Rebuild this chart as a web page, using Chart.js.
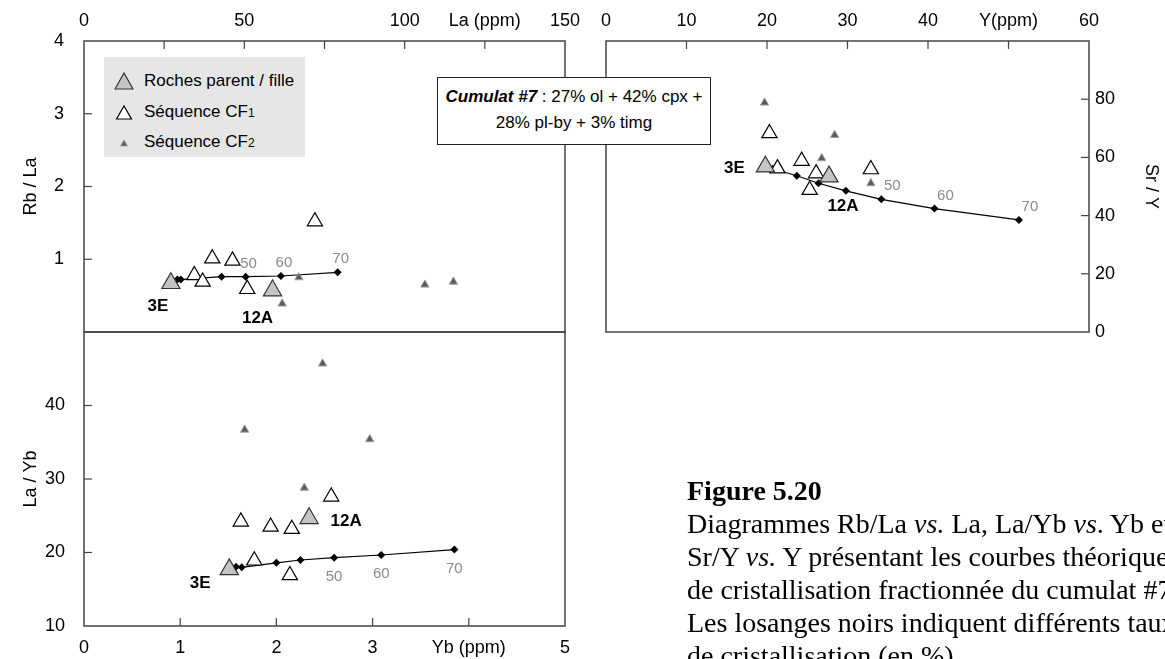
<!DOCTYPE html>
<html lang="fr">
<head>
<meta charset="utf-8">
<title>Figure 5.20</title>
<script src="https://cdn.jsdelivr.net/npm/chart.js@4.4.0/dist/chart.umd.min.js"></script>
<style>
    html, body { margin: 0; padding: 0; background: #fff; }
    body { width: 1165px; height: 659px; overflow: hidden; position: relative; font-family: 'Liberation Sans', Arial, sans-serif; }
    canvas { position: absolute; left: 0; top: 0; }
    #legend { position: absolute; left: 104px; top: 57px; width: 201px; height: 100px; background: #e6e6e6; z-index: 5; }
    #legend .row { position: absolute; left: 0; height: 20px; line-height: 20px; font-size: 17px; white-space: nowrap; }
    #legend svg { position: absolute; left: 10px; top: 1px; }
    #legend span.lbl { position: absolute; left: 40px; top: 0; }
    #legend sub { font-size: 12px; vertical-align: baseline; }
    #cumulat { position: absolute; left: 437px; top: 77px; width: 272px; height: 60px; border: 1.5px solid #222; background: #fff;
               text-align: center; font-size: 17px; line-height: 26px; padding-top: 6px; box-sizing: content-box; z-index: 5; white-space: nowrap; }
    #caption { position: absolute; left: 687px; top: 474px; font-family: 'Liberation Serif', 'Times New Roman', serif; font-size: 28px;
               line-height: 33px; white-space: nowrap; color: #000; }
</style>
</head>
<body>

<canvas id="rbLaChart" width="1165" height="659"></canvas>
<canvas id="laYbChart" width="1165" height="659"></canvas>
<canvas id="srYChart" width="1165" height="659"></canvas>

<div id="legend">
    <div class="row" style="top:14px">
        <svg width="20" height="18"><polygon points="1,17 10,1 19,17" fill="#c4c4c4" stroke="#333" stroke-width="1.2"/></svg>
        <span class="lbl">Roches parent / fille</span>
    </div>
    <div class="row" style="top:45px">
        <svg width="20" height="18"><polygon points="2.5,16 10,3 17.5,16" fill="#fff" stroke="#000" stroke-width="1.2"/></svg>
        <span class="lbl">Séquence CF<sub>1</sub></span>
    </div>
    <div class="row" style="top:75px">
        <svg width="20" height="18"><polygon points="6.5,13 10,7 13.5,13" fill="#5a5a5a" stroke="#a0a0a0" stroke-width="1"/></svg>
        <span class="lbl">Séquence CF<sub>2</sub></span>
    </div>
</div>

<div id="cumulat">
    <b><i>Cumulat #7</i></b> : 27% ol + 42% cpx +<br>28% pl-by + 3% timg
</div>

<div id="caption">
    <b>Figure 5.20</b><br>
    Diagrammes Rb/La <i>vs.</i> La, La/Yb <i>vs</i>. Yb et<br>
    Sr/Y <i>vs.</i> Y présentant les courbes théoriques<br>
    de cristallisation fractionnée du cumulat #7.<br>
    Les losanges noirs indiquent différents taux<br>
    de cristallisation (en %).
</div>

<script>
// =======================================================
// Data
// =======================================================

// --- Rb/La vs La (ppm) ---
const laParent   = [27.1, 58.8];
const rbLaParent = [0.67, 0.57];
const laCF1      = [34.4, 37.0, 40.0, 46.3, 50.9, 72.0];
const rbLaCF1    = [0.78, 0.69, 1.01, 0.98, 0.59, 1.52];
const laCF2      = [61.8, 67.0, 106.3, 115.2];
const rbLaCF2    = [0.39, 0.75, 0.65, 0.69];
const laCurve    = [29.1, 30.2, 42.9, 50.4, 61.4, 79.1];
const rbLaCurve  = [0.72, 0.72, 0.76, 0.76, 0.77, 0.82];
const rbLaPct    = ['', '', '', '50', '60', '70'];

// --- La/Yb vs Yb (ppm) ---
const ybParent   = [1.51, 2.34];
const laYbParent = [17.7, 24.65];
const ybCF1      = [1.63, 1.94, 2.16, 2.57, 1.77, 2.14];
const laYbCF1    = [24.2, 23.5, 23.2, 27.6, 18.9, 16.9];
const ybCF2      = [2.48, 1.67, 2.97, 2.29];
const laYbCF2    = [45.7, 36.7, 35.4, 28.8];
const ybCurve    = [1.58, 1.64, 2.00, 2.25, 2.60, 3.09, 3.85];
const laYbCurve  = [18.07, 17.99, 18.6, 18.98, 19.3, 19.66, 20.4];
const laYbPct    = ['', '', '', '', '50', '60', '70'];

// --- Sr/Y vs Y (ppm) ---
const yParent    = [19.8, 27.7];
const srYParent  = [56.8, 53.4];
const yCF1       = [20.3, 21.3, 24.3, 26.1, 25.3, 32.9];
const srYCF1     = [68.3, 56.2, 58.8, 54.5, 48.8, 55.9];
const yCF2       = [19.7, 26.8, 28.4, 32.9];
const srYCF2     = [78.8, 59.7, 67.7, 51.1];
const yCurve     = [20.7, 23.7, 26.4, 29.8, 34.2, 40.8, 51.3];
const srYCurve   = [56.1, 53.7, 51.1, 48.5, 45.6, 42.4, 38.5];
const srYPct     = ['', '', '', '', '50', '60', '70'];

const sampleNames = ['3E', '12A'];

// --- Axis tick labels (axis names sit in place of one tick) ---
const laTickLabels  = { 0: '0', 50: '50', 100: '100', 125: 'La (ppm)', 150: '150' };
const ybTickLabels  = { 0: '0', 1: '1', 2: '2', 3: '3', 4: 'Yb (ppm)', 5: '5' };
const yTickLabels   = { 0: '0', 10: '10', 20: '20', 30: '30', 40: '40', 50: 'Y(ppm)', 60: '60' };

// =======================================================
// Helpers
// =======================================================
const FONT = "'Liberation Sans', Arial, sans-serif";
const pts = (xs, ys) => xs.map((x, i) => ({ x, y: ys[i] }));

// fixed axis thickness so the plot areas land where the figure has them
const fixBox = size => scale => {
    if (scale.isHorizontal()) scale.height = size; else scale.width = size;
    scale.paddingLeft = scale.paddingRight = scale.paddingTop = scale.paddingBottom = 0;
};

// frame round the plot area + ticks pointing inwards
const framePlugin = {
    id: 'frame',
    afterDraw(chart, args, opts) {
        const { ctx, chartArea: a } = chart;
        ctx.save();
        ctx.strokeStyle = '#444';
        ctx.lineWidth = 1.5;
        ctx.strokeRect(a.left, a.top, a.right - a.left, a.bottom - a.top);
        ctx.lineWidth = 1.2;
        (opts.sides || []).forEach(sd => {
            const s = chart.scales[sd.scale];
            s.ticks.forEach(tk => {
                if (tk.value <= s.min || tk.value >= s.max) return;
                const p = s.getPixelForValue(tk.value);
                ctx.beginPath();
                if (sd.side === 'top')    { ctx.moveTo(p, a.top);    ctx.lineTo(p, a.top + 8); }
                if (sd.side === 'bottom') { ctx.moveTo(p, a.bottom); ctx.lineTo(p, a.bottom - 8); }
                if (sd.side === 'left')   { ctx.moveTo(a.left, p);   ctx.lineTo(a.left + 8, p); }
                if (sd.side === 'right')  { ctx.moveTo(a.right, p);  ctx.lineTo(a.right - 8, p); }
                ctx.stroke();
            });
        });
        ctx.restore();
    }
};

// sample names and crystallisation % next to the points
const pointLabelPlugin = {
    id: 'pointLabels',
    afterDatasetsDraw(chart, args, opts) {
        const ctx = chart.ctx;
        ctx.save();
        ctx.textAlign = 'center';
        ctx.textBaseline = 'middle';
        (opts.sets || []).forEach(set => {
            const meta = chart.getDatasetMeta(set.dataset);
            ctx.font = set.font;
            ctx.fillStyle = set.color;
            meta.data.forEach((el, i) => {
                const txt = set.texts[i];
                if (!txt) return;
                const off = set.offsets ? set.offsets[i] : set.offset;
                ctx.fillText(txt, el.x + off[0], el.y + off[1]);
            });
        });
        ctx.restore();
    }
};

const makeSets = (px, py, c1x, c1y, c2x, c2y, cx, cy) => [
    { data: pts(px, py), pointStyle: 'triangle', pointRadius: 10.5, pointBackgroundColor: '#c4c4c4', pointBorderColor: '#333', pointBorderWidth: 1.2 },
    { data: pts(c1x, c1y), pointStyle: 'triangle', pointRadius: 8.8, pointBackgroundColor: '#fff', pointBorderColor: '#000', pointBorderWidth: 1.2 },
    { data: pts(c2x, c2y), pointStyle: 'triangle', pointRadius: 4.8, pointBackgroundColor: '#5a5a5a', pointBorderColor: '#a0a0a0', pointBorderWidth: 1 },
    { data: pts(cx, cy), showLine: true, borderColor: '#000', borderWidth: 1.2, pointStyle: 'rectRot', pointRadius: 4,
      pointBackgroundColor: '#000', pointBorderColor: '#000', pointBorderWidth: 0 }
];

const tickFont = { family: FONT, size: 18 };
const nameFont = 'bold 17px ' + FONT;
const pctFont = '15px ' + FONT;

function makePanel(id, datasets, padding, scales, frameSides, labelSets) {
    return new Chart(document.getElementById(id), {
        type: 'scatter',
        data: { datasets },
        options: {
            responsive: false,
            animation: false,
            events: [],
            layout: { padding },
            plugins: {
                legend: { display: false },
                tooltip: { enabled: false },
                frame: { sides: frameSides },
                pointLabels: { sets: labelSets }
            },
            scales
        },
        plugins: [framePlugin, pointLabelPlugin]
    });
}

const axisBase = (extra) => Object.assign({
    type: 'linear',
    grid: { display: false, drawTicks: false },
    border: { display: false }
}, extra);

// =======================================================
// Panel 1: Rb/La vs La
// =======================================================
makePanel('rbLaChart',
    makeSets(laParent, rbLaParent, laCF1, rbLaCF1, laCF2, rbLaCF2, laCurve, rbLaCurve),
    { left: 20, top: 0, right: 600, bottom: 327 },
    {
        x: axisBase({ position: 'top', min: 0, max: 150, afterFit: fixBox(41),
            ticks: { stepSize: 25, autoSkip: false, maxRotation: 0, padding: 9, color: '#000', font: tickFont,
                     callback: v => laTickLabels[v] ?? '' } }),
        y: axisBase({ position: 'left', min: 0, max: 4, afterFit: fixBox(64),
            ticks: { stepSize: 1, padding: 20, color: '#000', font: tickFont, callback: v => v === 0 ? '' : v },
            title: { display: true, text: 'Rb / La', padding: 0, color: '#000', font: tickFont } })
    },
    [{ scale: 'x', side: 'top' }, { scale: 'y', side: 'left' }],
    [
        { dataset: 0, texts: sampleNames, font: nameFont, color: '#000', offsets: [[-13, 23], [-15, 28]] },
        { dataset: 3, texts: rbLaPct, font: pctFont, color: '#8a8a8a', offset: [3, -13] }
    ]
);

// =======================================================
// Panel 2: La/Yb vs Yb
// =======================================================
makePanel('laYbChart',
    makeSets(ybParent, laYbParent, ybCF1, laYbCF1, ybCF2, laYbCF2, ybCurve, laYbCurve),
    { left: 20, top: 332, right: 600, bottom: 0 },
    {
        x: axisBase({ position: 'bottom', min: 0, max: 5, afterFit: fixBox(33),
            ticks: { stepSize: 1, autoSkip: false, maxRotation: 0, padding: 11, color: '#000', font: tickFont,
                     callback: v => ybTickLabels[v] ?? '' } }),
        y: axisBase({ position: 'left', min: 10, max: 50, afterFit: fixBox(64),
            ticks: { stepSize: 10, padding: 19, color: '#000', font: tickFont, callback: v => v === 50 ? '' : v },
            title: { display: true, text: 'La / Yb', padding: 0, color: '#000', font: tickFont } })
    },
    [{ scale: 'x', side: 'bottom' }, { scale: 'y', side: 'left' }],
    [
        { dataset: 0, texts: sampleNames, font: nameFont, color: '#000', offsets: [[-29, 14], [37, 3]] },
        { dataset: 3, texts: laYbPct, font: pctFont, color: '#8a8a8a', offset: [0, 19] }
    ]
);

// =======================================================
// Panel 3: Sr/Y vs Y
// =======================================================
makePanel('srYChart',
    makeSets(yParent, srYParent, yCF1, srYCF1, yCF2, srYCF2, yCurve, srYCurve),
    { left: 606, top: 0, right: 3, bottom: 327 },
    {
        x: axisBase({ position: 'top', min: 0, max: 60, afterFit: fixBox(41),
            ticks: { stepSize: 10, autoSkip: false, maxRotation: 0, padding: 9, color: '#000', font: tickFont,
                     callback: v => yTickLabels[v] ?? '' } }),
        y: axisBase({ position: 'right', min: 0, max: 100, afterFit: fixBox(73),
            ticks: { stepSize: 20, padding: 6, color: '#000', font: tickFont, callback: v => v === 100 ? '' : v },
            title: { display: true, text: 'Sr / Y', padding: 0, color: '#000', font: tickFont } })
    },
    [{ scale: 'x', side: 'top' }, { scale: 'y', side: 'right' }],
    [
        { dataset: 0, texts: sampleNames, font: nameFont, color: '#000', offsets: [[-31, 2], [14, 30]] },
        { dataset: 3, texts: srYPct, font: pctFont, color: '#8a8a8a', offset: [11, -13] }
    ]
);
</script>
</body>
</html>
